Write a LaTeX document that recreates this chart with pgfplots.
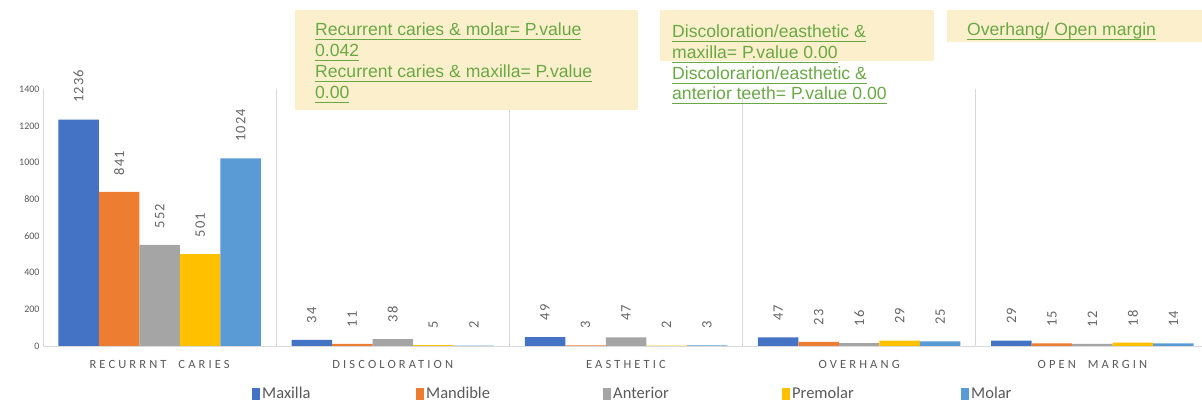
\documentclass[border=0pt]{standalone}
\usepackage{fontspec}
\setmainfont{Carlito}
\newfontfamily\arialf{Liberation Sans}
\newfontfamily\catf[LetterSpace=25]{Carlito}
\newfontfamily\labf[LetterSpace=8]{Carlito}
\newcommand\uline[1]{\underline{\smash{#1}\vphantom{,}}}
\usepackage{pgfplots}
\pgfplotsset{compat=1.18}
\definecolor{cMax}{HTML}{4472C4}
\definecolor{cMan}{HTML}{ED7D31}
\definecolor{cAnt}{HTML}{A5A5A5}
\definecolor{cPre}{HTML}{FFC000}
\definecolor{cMol}{HTML}{5B9BD5}
\definecolor{txtgrey}{HTML}{595959}
\definecolor{lblgrey}{HTML}{666666}
\definecolor{linegrey}{HTML}{D9D9D9}
\definecolor{boxfill}{HTML}{FCEFCB}
\definecolor{notegreen}{HTML}{6AA846}
\begin{document}
\begin{tikzpicture}[x=1pt,y=1pt]
\path[use as bounding box] (-43,-55) rectangle (1159,346);
\begin{axis}[
  scale only axis, width=1166pt, height=256.5pt,
  xmin=-0.5, xmax=4.5, ymin=0, ymax=1400,
  clip=false,
  ybar=0pt, bar width=40.5pt,
  axis x line*=bottom, axis y line*=left,
  axis line style={draw=linegrey},
  xtick={0,1,2,3,4},
  xticklabels={RECURRNT\ \ CARIES, DISCOLORATION, EASTHETIC, OVERHANG, OPEN\ \ MARGIN},
  xticklabel style={font=\catf\fontsize{12.5}{14}\selectfont, text=txtgrey, yshift=-11pt},
  major tick length=0pt, minor tick length=0pt,
  minor xtick={0.5,1.5,2.5,3.5,4.5},
  xminorgrids, minor grid style={draw=linegrey, line width=0.8pt},
  ytick={0,200,...,1400},
  yticklabel style={font=\fontsize{10}{12}\selectfont, text=txtgrey},
  /pgf/number format/1000 sep={},
  /pgf/number format/assume math mode=true,
  nodes near coords,
  every node near coord/.append style={rotate=90, anchor=west, inner xsep=16.5pt,
     font=\labf\fontsize{14.5}{16}\selectfont, text=lblgrey},
  legend columns=5,
  legend style={draw=none, fill=none, at={(axis description cs:0,0)}, anchor=west,
     xshift=209pt, yshift=-48pt, inner sep=0pt,
     font=\fontsize{16.5}{18}\selectfont, text=txtgrey,
     /tikz/column sep=0pt, nodes={inner xsep=2pt}},
  legend image code/.code={\fill[#1,draw=none] (0pt,-6pt) rectangle (8pt,6pt);},
]
\addplot[fill=cMax, draw=none] coordinates {(0,1236) (1,34) (2,49) (3,47) (4,29)};
\addlegendentry{\makebox[152pt][l]{Maxilla}}
\addplot[fill=cMan, draw=none] coordinates {(0,841) (1,11) (2,3) (3,23) (4,15)};
\addlegendentry{\makebox[175pt][l]{Mandible}}
\addplot[fill=cAnt, draw=none] coordinates {(0,552) (1,38) (2,47) (3,16) (4,12)};
\addlegendentry{\makebox[167pt][l]{Anterior}}
\addplot[fill=cPre, draw=none] coordinates {(0,501) (1,5) (2,2) (3,29) (4,18)};
\addlegendentry{\makebox[167pt][l]{Premolar}}
\addplot[fill=cMol, draw=none] coordinates {(0,1024) (1,2) (2,3) (3,25) (4,14)};
\addlegendentry{Molar}
\end{axis}
% annotation boxes
\fill[boxfill] (252,336) rectangle (595,236);
\fill[boxfill] (617,336) rectangle (891,285);
\fill[boxfill] (904,336) rectangle (1159,304);
\begin{scope}[every node/.style={anchor=base west, inner sep=0pt, text=notegreen,
   font=\arialf\fontsize{17.6}{19}\selectfont}]
\node at (272,310) {\uline{Recurrent caries \& molar= P.value}};
\node at (272,289) {\uline{0.042}};
\node at (272,268) {\uline{Recurrent caries \& maxilla= P.value}};
\node at (272,247) {\uline{0.00}};
\node at (629,308) {\uline{Discoloration/easthetic \&}};
\node at (629,287) {\uline{maxilla= P.value 0.00}};
\node at (629,266) {\uline{Discolorarion/easthetic \&}};
\node at (629,246) {\uline{anterior teeth= P.value 0.00}};
\node at (924,310) {\uline{Overhang/ Open margin}};
\end{scope}
\end{tikzpicture}
\end{document}
